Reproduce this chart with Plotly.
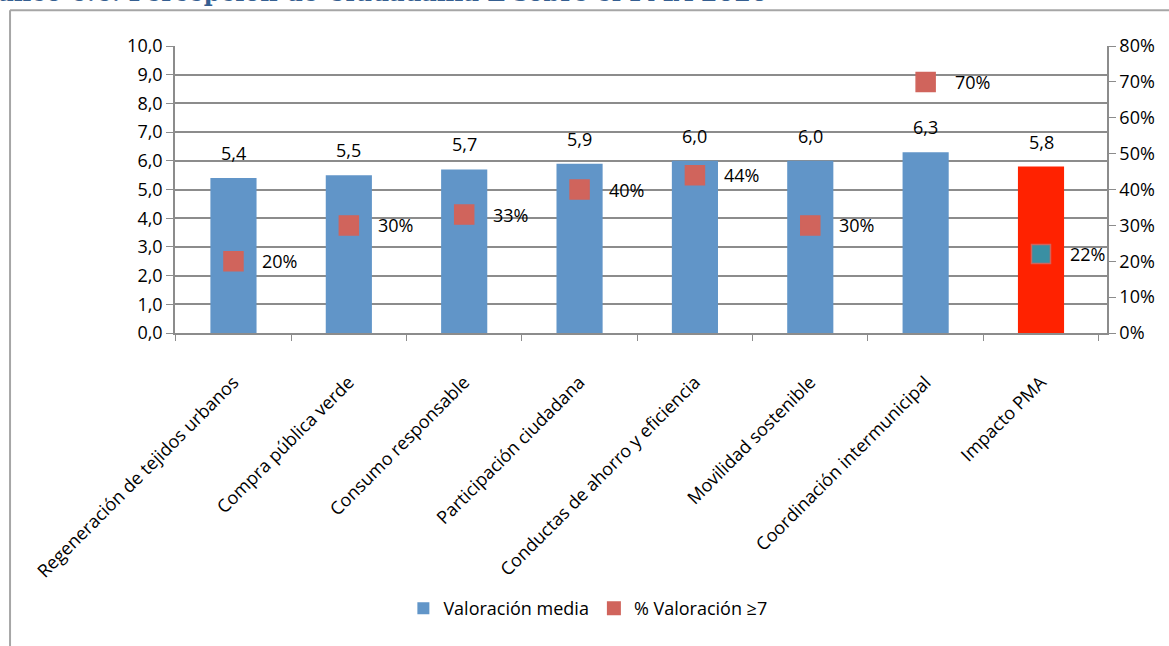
import plotly.graph_objects as go

categorias = [
    "Regeneración de tejidos urbanos",
    "Compra pública verde",
    "Consumo responsable",
    "Participación ciudadana",
    "Conductas de ahorro y eficiencia",
    "Movilidad sostenible",
    "Coordinación intermunicipal",
    "Impacto PMA",
]
valoracion_media = [5.4, 5.5, 5.7, 5.9, 6.0, 6.0, 6.3, 5.8]
pct_valoracion_7 = [0.20, 0.30, 0.33, 0.40, 0.44, 0.30, 0.70, 0.22]

titulo = "Gráfico 6.6. Percepción de Ciudadanía E sobre el PMA 2020"

AZUL = "#6195C8"
ROJO_BARRA = "#FF2200"
ROJO_MARCA = "#D0645C"
VERDE_AZULADO = "#3A8FA3"
GRIS = "#8C8C8C"
FUENTE = "'Open Sans', sans-serif"
TAM = 18

color_barras = [AZUL] * (len(categorias) - 1) + [ROJO_BARRA]
color_marcas = [ROJO_MARCA] * (len(categorias) - 1) + [VERDE_AZULADO]

fig = go.Figure()

fig.add_trace(go.Bar(
    x=categorias, y=valoracion_media, name="Valoración media",
    marker=dict(color=color_barras, line=dict(width=0)),
    width=0.4, yaxis="y",
))

fig.add_trace(go.Scatter(
    x=categorias, y=pct_valoracion_7, name="% Valoración ≥7",
    mode="markers", yaxis="y2",
    marker=dict(symbol="square", size=19, color=color_marcas,
                line=dict(color=ROJO_MARCA, width=1.5)),
))

anotaciones = []
# valores de la media encima de cada barra
for c, v in zip(categorias, valoracion_media):
    anotaciones.append(dict(
        x=c, y=v, xref="x", yref="y", text=f"{v:.1f}".replace(".", ","),
        showarrow=False, yanchor="bottom", yshift=11,
        font=dict(family=FUENTE, size=TAM, color="#000"),
    ))
# porcentajes a la derecha de cada marca
for c, p in zip(categorias, pct_valoracion_7):
    anotaciones.append(dict(
        x=c, y=p, xref="x", yref="y2", text=f"{round(p * 100)}%",
        showarrow=False, xanchor="left", xshift=27,
        font=dict(family=FUENTE, size=TAM, color="#000"),
    ))
# título del gráfico
anotaciones.append(dict(
    x=0.638, y=1.129, xref="paper", yref="paper", text=f"<b>{titulo}</b>",
    showarrow=False, xanchor="right", yanchor="bottom",
    font=dict(family="'DejaVu Serif', serif", size=24, color="#365F91"),
))

# marco exterior del gráfico
marco = [
    dict(type="line", xref="paper", yref="paper", x0=-0.177, x1=1.07,
         y0=1.125, y1=1.125, line=dict(color="#A6A6A6", width=2)),
    dict(type="line", xref="paper", yref="paper", x0=-0.177, x1=-0.177,
         y0=1.125, y1=-1.2, line=dict(color="#A6A6A6", width=2)),
]

fig.update_layout(
    width=1169, height=646,
    margin=dict(l=175, r=62, t=46, b=313),
    paper_bgcolor="white", plot_bgcolor="white",
    separators=",.",
    font=dict(family=FUENTE, size=TAM, color="#000"),
    bargap=0.6,
    showlegend=True,
    legend=dict(orientation="h", x=0.443, xanchor="center", y=-0.96,
                yanchor="middle", itemsizing="constant", itemwidth=30,
                font=dict(family=FUENTE, size=TAM)),
    annotations=anotaciones,
    shapes=marco,
    xaxis=dict(
        tickangle=-45, ticks="outside", tickson="boundaries", ticklen=6,
        tickcolor=GRIS, showline=True, linecolor=GRIS, linewidth=1.5,
        showgrid=False, tickfont=dict(size=TAM), ticklabelstandoff=30,
    ),
    yaxis=dict(
        range=[0, 10], dtick=1, tickformat=".1f", ticks="outside", ticklen=7,
        tickcolor=GRIS, showline=True, linecolor=GRIS, linewidth=1.5,
        showgrid=True, gridcolor=GRIS, gridwidth=1.5, zeroline=False,
        tickfont=dict(size=TAM),
    ),
    yaxis2=dict(
        range=[0, 0.8], dtick=0.1, tickformat=".0%", overlaying="y",
        side="right", ticks="outside", ticklen=7, tickcolor=GRIS,
        showline=True, linecolor=GRIS, linewidth=1.5, showgrid=False,
        zeroline=False, tickfont=dict(size=TAM),
    ),
)

fig.write_html("out.html")
